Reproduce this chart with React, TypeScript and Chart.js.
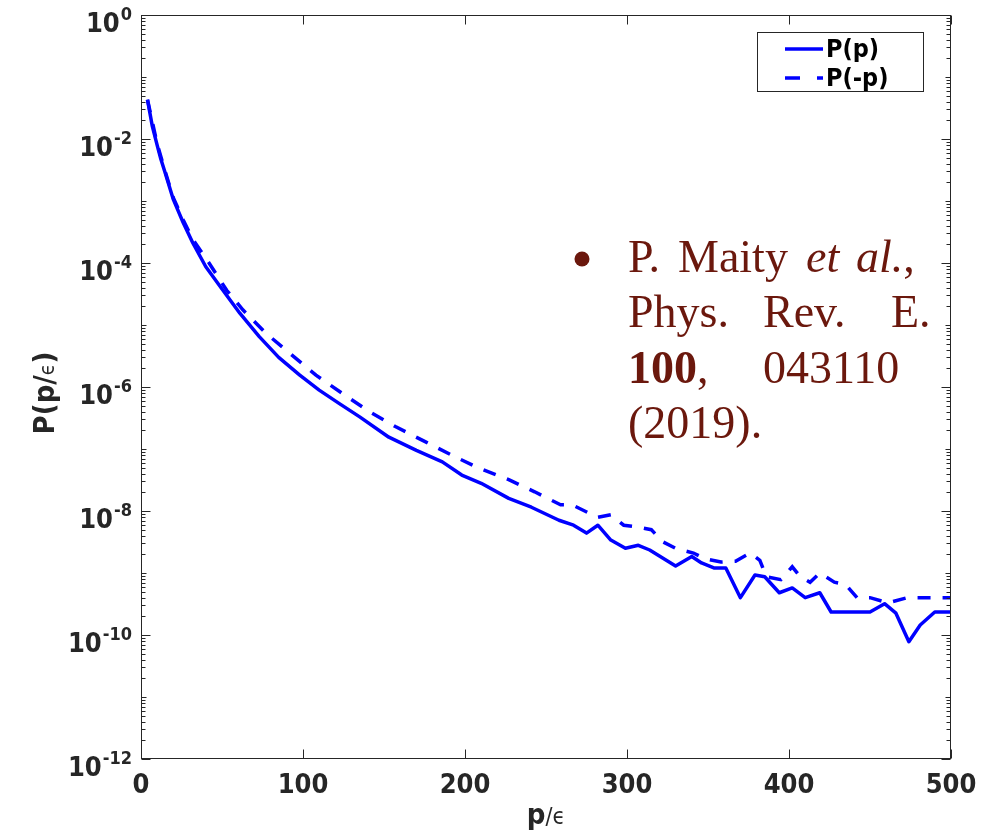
import React, { useEffect, useRef } from "react";
import { Chart, registerables } from "chart.js";

Chart.register(...registerables);

// ---- data ----
const pSolid = [4, 7, 10, 12, 15, 20, 26, 32, 40, 50, 61, 73, 85, 98, 110, 122, 135, 153, 170, 186, 198, 210, 227, 241, 258, 267, 275, 282, 290, 299, 307, 314, 330, 340, 346, 354, 361, 370, 379, 385, 394, 402, 410, 419, 426, 450, 459, 466, 474, 481, 490, 500];
const probSolid = [4.3e-2, 1.6e-2, 7.9e-3, 5.0e-3, 2.8e-3, 1.05e-3, 4.5e-4, 2.1e-4, 8.7e-5, 3.8e-5, 1.55e-5, 6.5e-6, 3.0e-6, 1.55e-6, 8.9e-7, 5.5e-7, 3.3e-7, 1.55e-7, 9.5e-8, 6.2e-8, 3.8e-8, 2.8e-8, 1.6e-8, 1.15e-8, 7.1e-9, 5.9e-9, 4.4e-9, 5.9e-9, 3.4e-9, 2.5e-9, 2.8e-9, 2.35e-9, 1.3e-9, 1.85e-9, 1.45e-9, 1.2e-9, 1.2e-9, 4.0e-10, 9.3e-10, 8.7e-10, 4.8e-10, 5.75e-10, 4.0e-10, 4.8e-10, 2.35e-10, 2.35e-10, 3.2e-10, 2.25e-10, 7.8e-11, 1.45e-10, 2.35e-10, 2.35e-10];

const pDashed = [4, 10, 15, 20, 26, 32, 42, 53, 63, 77, 93, 108, 123, 141, 157, 176, 192, 208, 227, 243, 259, 266, 282, 290, 298, 307, 315, 322, 330, 341, 348, 358, 367, 376, 382, 386, 395, 402, 407, 413, 419, 428, 435, 442, 450, 461, 473, 482, 500];
const probDashed = [4.3e-2, 8.3e-3, 2.95e-3, 1.12e-3, 5.0e-4, 2.4e-4, 1.0e-4, 3.6e-5, 1.74e-5, 7.4e-6, 3.3e-6, 1.55e-6, 8.3e-7, 4.0e-7, 2.3e-7, 1.29e-7, 7.9e-8, 5.0e-8, 3.2e-8, 2.04e-8, 1.26e-8, 1.26e-8, 7.9e-9, 8.7e-9, 5.9e-9, 5.5e-9, 5.0e-9, 3.2e-9, 2.5e-9, 2.1e-9, 1.7e-9, 1.5e-9, 1.55e-9, 2.1e-9, 1.6e-9, 8.7e-10, 7.8e-10, 1.26e-9, 8.7e-10, 7.1e-10, 1.0e-9, 7.1e-10, 6.5e-10, 4.0e-10, 4.0e-10, 3.3e-10, 4.0e-10, 4.0e-10, 4.0e-10];

const seriesLabels = ["P(p)", "P(-p)"];
const xTickValues = [0, 100, 200, 300, 400, 500];
const yTickExponents = [0, -2, -4, -6, -8, -10, -12];

// ---- styles ----
const AXIS = "#262626";
const BLUE = "#0000ff";
const TEXT_RED = "#6b180d";
const SANS = '"DejaVu Sans Condensed", "DejaVu Sans", sans-serif';
const SERIF = '"Liberation Serif", "Times New Roman", serif';

const overlayPlugin = {
  id: "overlay",
  afterDraw(chart: any) {
    const { ctx, chartArea: ca, scales } = chart;
    const xs = scales.x;
    const ys = scales.y;
    ctx.save();

    // axes box
    const L = Math.round(ca.left) + 0.5;
    const R = Math.round(ca.right) - 0.5;
    const T = Math.round(ca.top) + 0.5;
    const B = Math.round(ca.bottom) - 0.5;
    ctx.strokeStyle = AXIS;
    ctx.lineWidth = 1;
    ctx.setLineDash([]);
    ctx.strokeRect(L, T, R - L, B - T);

    // x ticks (inward, bottom and top)
    ctx.beginPath();
    for (const v of xTickValues) {
      const px = Math.round(xs.getPixelForValue(v)) + 0.5;
      ctx.moveTo(px, B);
      ctx.lineTo(px, B - 9);
      ctx.moveTo(px, T);
      ctx.lineTo(px, T + 9);
    }
    // y ticks (log, inward, left and right)
    const yMaxExp = yTickExponents[0];
    const yMinExp = yTickExponents[yTickExponents.length - 1];
    for (let e = yMaxExp; e >= yMinExp; e--) {
      const py = Math.round(ys.getPixelForValue(Math.pow(10, e))) + 0.5;
      const len = e % 2 === 0 ? 9 : 5;
      ctx.moveTo(L, py);
      ctx.lineTo(L + len, py);
      ctx.moveTo(R, py);
      ctx.lineTo(R - len, py);
      if (e > yMinExp) {
        for (let m = 2; m <= 9; m++) {
          const pm = Math.round(ys.getPixelForValue(m * Math.pow(10, e - 1))) + 0.5;
          ctx.moveTo(L, pm);
          ctx.lineTo(L + 4, pm);
          ctx.moveTo(R, pm);
          ctx.lineTo(R - 4, pm);
        }
      }
    }
    ctx.stroke();

    // y tick labels 10^e
    ctx.fillStyle = AXIS;
    ctx.textBaseline = "alphabetic";
    ctx.textAlign = "left";
    const labelRight = ca.left - 9;
    for (const e of yTickExponents) {
      const py = ys.getPixelForValue(Math.pow(10, e));
      const expStr = String(e);
      ctx.font = `bold 18px ${SANS}`;
      const ew = ctx.measureText(expStr).width;
      ctx.font = `bold 27px ${SANS}`;
      const bw = ctx.measureText("10").width;
      const x0 = labelRight - ew - bw - 1;
      ctx.fillText("10", x0, py + 17);
      ctx.font = `bold 18px ${SANS}`;
      ctx.fillText(expStr, x0 + bw + 1, py + 5);
    }

    // x axis title: p/ϵ
    {
      ctx.font = `bold 29px ${SANS}`;
      const w1 = ctx.measureText("p").width;
      ctx.font = `23px ${SANS}`;
      const w2 = ctx.measureText("/ϵ").width;
      const cx = (ca.left + ca.right) / 2;
      const x0 = cx - (w1 + w2) / 2;
      const by = 824;
      ctx.font = `bold 29px ${SANS}`;
      ctx.fillText("p", x0, by);
      ctx.font = `23px ${SANS}`;
      ctx.fillText("/ϵ", x0 + w1, by);
    }

    // y axis title: P(p/ϵ)
    {
      ctx.save();
      ctx.translate(54, (ca.top + ca.bottom) / 2 + 6);
      ctx.rotate(-Math.PI / 2);
      ctx.font = `bold 29px ${SANS}`;
      const a = "P(p/";
      const wa = ctx.measureText(a).width;
      const wc = ctx.measureText(")").width;
      ctx.font = `21px ${SANS}`;
      const wb = ctx.measureText("ϵ").width;
      const x0 = -(wa + wb + wc) / 2;
      ctx.font = `bold 29px ${SANS}`;
      ctx.fillText(a, x0, 0);
      ctx.font = `21px ${SANS}`;
      ctx.fillText("ϵ", x0 + wa, 0);
      ctx.font = `bold 29px ${SANS}`;
      ctx.fillText(")", x0 + wa + wb, 0);
      ctx.restore();
    }

    // legend
    {
      const bx = 757.5, by = 32.5, bw = 166, bh = 59;
      ctx.fillStyle = "#ffffff";
      ctx.fillRect(bx, by, bw, bh);
      ctx.strokeStyle = AXIS;
      ctx.lineWidth = 1;
      ctx.strokeRect(bx, by, bw, bh);
      const rows = [49, 78];
      chart.data.datasets.forEach((ds: any, i: number) => {
        const y = rows[i];
        ctx.strokeStyle = BLUE;
        ctx.lineWidth = 3.5;
        ctx.setLineDash(i === 1 ? [15, 17] : []);
        ctx.beginPath();
        ctx.moveTo(785, y);
        ctx.lineTo(823, y);
        ctx.stroke();
        ctx.setLineDash([]);
        ctx.fillStyle = "#000000";
        ctx.font = `bold 25px ${SANS}`;
        ctx.textBaseline = "middle";
        ctx.fillText(ds.label, 826, y + 1);
      });
      ctx.textBaseline = "alphabetic";
    }

    // citation annotation
    {
      ctx.fillStyle = TEXT_RED;
      const reg = `46px ${SERIF}`;
      const bold = `bold 46px ${SERIF}`;
      const ital = `italic 46px ${SERIF}`;
      // bullet
      ctx.beginPath();
      ctx.arc(582, 259, 7.5, 0, Math.PI * 2);
      ctx.fill();
      // line 1
      ctx.font = reg;
      ctx.fillText("P.", 628, 272);
      ctx.fillText("Maity", 678, 272);
      ctx.font = ital;
      ctx.fillText("et", 806, 272);
      ctx.fillText("al.", 856, 272);
      const wal = ctx.measureText("al.").width;
      ctx.font = reg;
      ctx.fillText(",", 856 + wal, 272);
      // line 2
      ctx.fillText("Phys.", 628, 327);
      ctx.fillText("Rev.", 763, 327);
      ctx.fillText("E.", 891, 327);
      // line 3
      ctx.font = bold;
      ctx.fillText("100", 628, 383);
      const w100 = ctx.measureText("100").width;
      ctx.font = reg;
      ctx.fillText(",", 628 + w100, 383);
      ctx.fillText("043110", 763, 383);
      // line 4
      ctx.fillText("(2019).", 628, 438);
    }

    ctx.restore();
  },
};

export default function App() {
  const canvasRef = useRef<HTMLCanvasElement | null>(null);

  useEffect(() => {
    const canvas = canvasRef.current;
    if (!canvas) return;
    const chart = new Chart(canvas, {
      type: "line",
      data: {
        datasets: [
          {
            label: seriesLabels[0],
            data: pSolid.map((p, i) => ({ x: p, y: probSolid[i] })),
            borderColor: BLUE,
            backgroundColor: BLUE,
            borderWidth: 3.5,
            pointRadius: 0,
            tension: 0,
            borderJoinStyle: "round",
          },
          {
            label: seriesLabels[1],
            data: pDashed.map((p, i) => ({ x: p, y: probDashed[i] })),
            borderColor: BLUE,
            backgroundColor: BLUE,
            borderWidth: 3.5,
            borderDash: [13, 12],
            borderCapStyle: "butt",
            pointRadius: 0,
            tension: 0,
          },
        ],
      },
      options: {
        responsive: false,
        animation: false,
        events: [],
        layout: { padding: { top: 15, right: 48, left: 0, bottom: 0 } },
        plugins: {
          legend: { display: false },
          tooltip: { enabled: false },
          title: { display: false },
        },
        scales: {
          x: {
            type: "linear",
            min: 0,
            max: 500,
            grid: { display: false, drawTicks: false },
            border: { display: false },
            ticks: {
              stepSize: 100,
              color: AXIS,
              padding: 11,
              font: { family: SANS, size: 27, weight: "bold" },
              maxRotation: 0,
            },
            afterFit(scale: any) {
              scale.height = 78;
            },
          },
          y: {
            type: "logarithmic",
            min: 1e-12,
            max: 1,
            grid: { display: false, drawTicks: false },
            border: { display: false },
            ticks: { display: false },
            afterFit(scale: any) {
              scale.width = 141;
            },
          },
        },
      },
      plugins: [overlayPlugin],
    } as any);
    return () => chart.destroy();
  }, []);

  return (
    <div style={{ position: "fixed", left: 0, top: 0, width: 999, height: 837, background: "#fff" }}>
      <canvas ref={canvasRef} width={999} height={837} style={{ display: "block" }} />
    </div>
  );
}
